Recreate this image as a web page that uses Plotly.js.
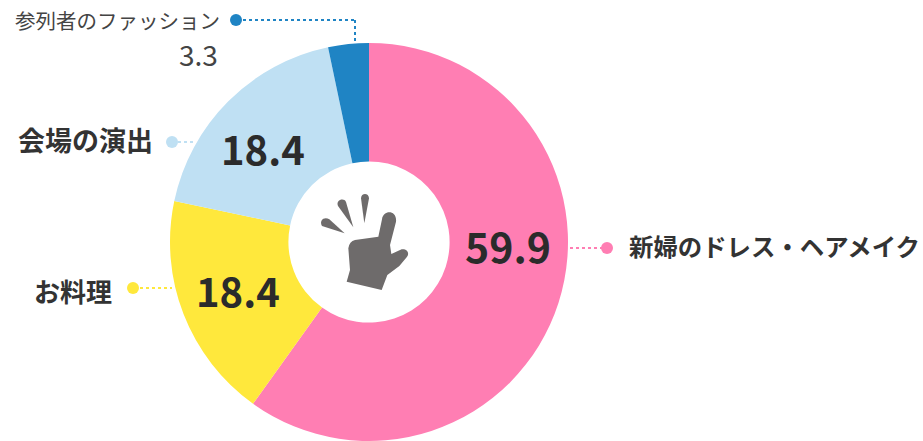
<!DOCTYPE html>
<html><head><meta charset="utf-8"><script src="https://cdn.plot.ly/plotly-3.0.1.min.js"></script>
<style>html,body{margin:0;padding:0;background:#fff}</style></head><body><div id="c" style="width:923px;height:441px"></div>
<script>
const categories=["新婦のドレス・ヘアメイク","お料理","会場の演出","参列者のファッション"];
const seriesValues=[59.9,18.4,18.4,3.3];
const valueLabels=["59.9","18.4","18.4","3.3"];
const colors=["#FF7EB3","#FFE83C","#BFE0F3","#1F84C4"];
const F='"Noto Sans CJK JP"';
const W=923,H=441,cx=369,cy=242,R=199;
const px=(x,y)=>(x/W).toFixed(5)+','+(1-y/H).toFixed(5);
const z=(x,y)=>px(300+x/3,170+y/3);
const ann=(x,y,t,size,col,anchor,weight)=>({x:x/W,y:1-y/H,xref:'paper',yref:'paper',text:weight?'<b>'+t+'</b>':t,showarrow:false,xanchor:anchor||'center',yanchor:'middle',font:{family:F,size:size,color:col}});
const line=(x0,y0,x1,y1,c)=>({type:'line',xref:'paper',yref:'paper',x0:x0/W,x1:x1/W,y0:1-y0/H,y1:1-y1/H,line:{color:c,width:2,dash:'dot'}});
const dot=(x,y,r,c)=>({type:'circle',xref:'paper',yref:'paper',x0:(x-r)/W,x1:(x+r)/W,y0:1-(y-r)/H,y1:1-(y+r)/H,fillcolor:c,line:{width:0}});
const icon=(d)=>({type:'path',xref:'paper',yref:'paper',path:d,fillcolor:'#6E6B6B',line:{width:0}});
const hand='M'+z(246,148)+' C'+z(250,118)+' '+z(292,120)+' '+z(288,155)+' L'+z(270,225)+' L'+z(274,252)+' L'+z(305,238)+' C'+z(322,236)+' '+z(330,250)+' '+z(320,262)+' L'+z(298,288)+' L'+z(262,315)+' L'+z(245,360)+' L'+z(140,335)+' L'+z(150,300)+' L'+z(145,235)+' Q'+z(148,214)+' '+z(165,210)+' L'+z(235,200)+' Z';
const ray=(tx,ty,ax,ay,c1x,c1y,c2x,c2y,bx,by)=>'M'+z(tx,ty)+' L'+z(ax,ay)+' C'+z(c1x,c1y)+' '+z(c2x,c2y)+' '+z(bx,by)+' Z';
const layout={width:W,height:H,margin:{l:0,r:0,t:0,b:0},showlegend:false,paper_bgcolor:'#fff',
 annotations:[
  ann(508,245,valueLabels[0],41,'#2b2b2b','center',1),
  ann(238,290,valueLabels[1],40,'#2b2b2b','center',1),
  ann(263,148,valueLabels[2],40,'#2b2b2b','center',1),
  ann(198,54,valueLabels[3],28,'#444','center'),
  ann(627,246,categories[0],24.4,'#333','left',1),
  ann(32,290,categories[1],26,'#333','left',1),
  ann(16,139,categories[2],27,'#333','left',1),
  ann(13,20,categories[3],20.5,'#444','left')],
 shapes:[
  line(570,248,606,248,colors[0]),dot(607,248,6,colors[0]),
  line(134,288,172,288,colors[1]),dot(133,288,6,colors[1]),
  line(172,142,195,142,colors[2]),dot(172,142,6,colors[2]),
  line(237,20,355,20,colors[3]),line(355,20,355,45,colors[3]),dot(236,20,6,colors[3]),
  icon(hand),
  icon(ray(193,160,183,85,183,68,207,68,207,85)),
  icon(ray(160,172,114,108,106,90,132,82,138,96)),
  icon(ray(134,190,66,168,56,150,74,138,88,148))
 ]};
Plotly.newPlot('c',[{type:'pie',labels:categories,values:seriesValues,hole:0.405,sort:false,direction:'clockwise',rotation:0,textinfo:'none',hoverinfo:'label+value',marker:{colors:colors,line:{width:0}},domain:{x:[(cx-R)/W,(cx+R)/W],y:[1-(cy+R)/H,1-(cy-R)/H]}}],layout,{displayModeBar:false});
</script></body></html>
